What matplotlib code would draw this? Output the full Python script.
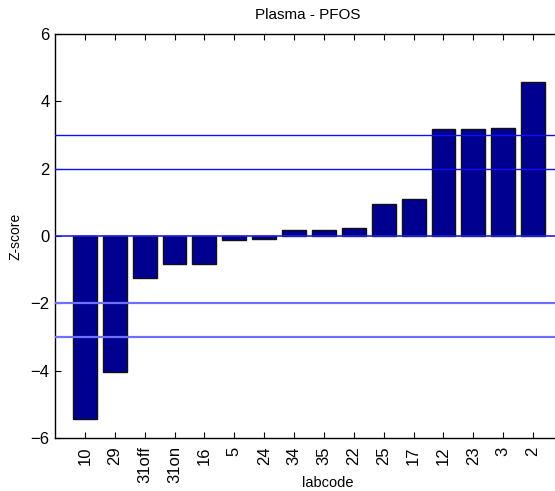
import matplotlib
matplotlib.use("Agg")
import matplotlib.pyplot as plt
import numpy as np

plt.rcParams['font.family'] = ['Liberation Sans', 'DejaVu Sans']

# lab codes, sorted by z-score
labcodes = ["10", "29", "31off", "31on", "16", "5", "24", "34", "35",
            "22", "25", "17", "12", "23", "3", "2"]
zscores = [-5.45, -4.05, -1.25, -0.83, -0.83, -0.12, -0.09, 0.17, 0.17,
           0.23, 0.94, 1.11, 3.18, 3.18, 3.22, 4.57]

upper_limits = [2, 3]
lower_limits = [-2, -3]

fig = plt.figure(figsize=(5.55, 4.91), dpi=100)
ax = fig.add_axes([55 / 555, 53 / 491, 508 / 555, 404 / 491])

x = np.arange(1, len(labcodes) + 1)
ax.bar(x, zscores, width=0.8, color="#000090", edgecolor="#111111",
       linewidth=1.0, zorder=2)

for y in upper_limits:
    ax.axhline(y, color="#1010f0", linewidth=1.0, zorder=3)
for y in lower_limits:
    ax.axhline(y, color="#7070ff", linewidth=1.6, zorder=3)
ax.axhline(0, color="#2020e0", linewidth=1.2, zorder=3)

ax.set_xlim(0, len(labcodes) + 1)
ax.set_ylim(-6, 6)
ax.set_yticks([-6, -4, -2, 0, 2, 4, 6])
ax.set_xticks(x)
ax.set_xticklabels(labcodes, rotation=90, fontsize=12)
ax.tick_params(axis='y', labelsize=12, direction='in', length=4, pad=4)
ax.tick_params(axis='x', direction='in', length=4, pad=6, top=True)

for sp in ax.spines.values():
    sp.set_linewidth(1.0)

ax.set_title("Plasma - PFOS", fontsize=11, pad=11)
ax.title.set_position((253 / 508, 1))
ax.set_xlabel("labcode", fontsize=10.5)
ax.xaxis.set_label_coords(273 / 508, -0.095)
ax.set_ylabel("Z-score", fontsize=10)
ax.yaxis.set_label_coords(-33 / 508, 0.5)

fig.savefig("out.png", dpi=100)
